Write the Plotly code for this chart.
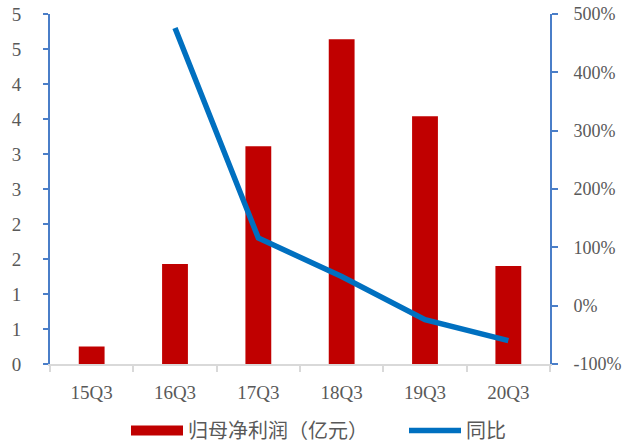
import plotly.graph_objects as go

categories = ["15Q3", "16Q3", "17Q3", "18Q3", "19Q3", "20Q3"]
profit = [0.25, 1.43, 3.11, 4.64, 3.54, 1.40]          # 归母净利润（亿元）
yoy = [None, 476, 116, 50, -24, -60]                  # 同比 (%)
left_tickvals = [0, 0.5, 1, 1.5, 2, 2.5, 3, 3.5, 4, 4.5, 5]
left_ticktext = ["0", "1", "1", "2", "2", "3", "3", "4", "4", "5", "5"]
right_tickvals = [-100, 0, 100, 200, 300, 400, 500]
right_ticktext = ["-100%", "0%", "100%", "200%", "300%", "400%", "500%"]

RED = "#C00000"
BLUE = "#0070C0"
AXIS_BLUE = "#4A7EC8"
GREY_TXT = "#595959"
FONT = "Liberation Serif, Noto Sans CJK SC, serif"

fig = go.Figure()
fig.add_trace(go.Bar(
    x=categories, y=profit, name="归母净利润（亿元）",
    marker=dict(color=RED, line=dict(width=0)), width=0.31,
    yaxis="y", showlegend=False,
))
# legend proxy with a wide flat swatch like the reference
fig.add_trace(go.Scatter(
    x=[None], y=[None], mode="lines", name="归母净利润（亿元）",
    line=dict(color=RED, width=10), yaxis="y", legend="legend",
))
fig.add_trace(go.Scatter(
    x=categories, y=yoy, name="同比", mode="lines",
    line=dict(color=BLUE, width=5.5), yaxis="y2",
    connectgaps=False, legend="legend2",
))

legend_common = dict(
    orientation="h", xanchor="left", y=-0.19, yanchor="middle",
    font=dict(size=20, color=GREY_TXT, family=FONT),
    itemwidth=52, bgcolor="rgba(0,0,0,0)",
)

fig.update_layout(
    width=622, height=442,
    margin=dict(l=50, r=72, t=14, b=78, autoexpand=False),
    paper_bgcolor="white", plot_bgcolor="white",
    font=dict(family=FONT, color=GREY_TXT, size=18),
    xaxis=dict(
        type="category", showgrid=False, showline=True,
        linecolor="#D9D9D9", linewidth=1.5,
        ticks="outside", tickson="boundaries", ticklen=6,
        tickcolor="#D9D9D9", tickwidth=1.5,
        tickfont=dict(size=19, color=GREY_TXT, family=FONT),
        ticklabelstandoff=10,
    ),
    yaxis=dict(
        range=[0, 5], tickvals=left_tickvals, ticktext=left_ticktext,
        showgrid=False, zeroline=False, showline=True,
        linecolor=AXIS_BLUE, linewidth=2,
        ticks="outside", ticklen=5, tickcolor=AXIS_BLUE, tickwidth=2,
        tickfont=dict(size=19, color=GREY_TXT, family=FONT),
        ticklabelstandoff=18,
    ),
    yaxis2=dict(
        range=[-100, 500], tickvals=right_tickvals, ticktext=right_ticktext,
        overlaying="y", side="right",
        showgrid=False, zeroline=False, showline=True,
        linecolor=AXIS_BLUE, linewidth=2,
        ticks="outside", ticklen=6, tickcolor=AXIS_BLUE, tickwidth=2,
        tickfont=dict(size=18, color=GREY_TXT, family=FONT),
        ticklabelstandoff=12,
    ),
    legend=dict(x=0.152, **legend_common),
    legend2=dict(x=0.708, **legend_common),
)

fig.write_html("out.html")
